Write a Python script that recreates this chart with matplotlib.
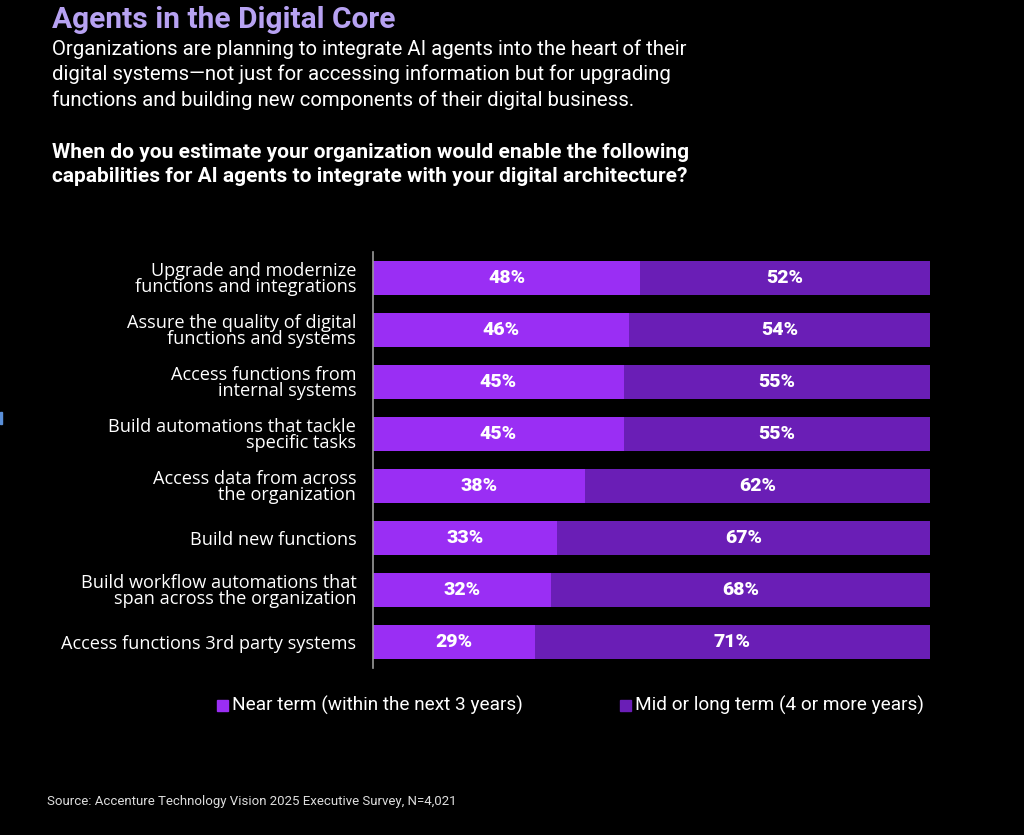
import matplotlib
matplotlib.use("Agg")
import matplotlib.pyplot as plt
from matplotlib.patches import Rectangle

categories = [
    "Upgrade and modernize\nfunctions and integrations",
    "Assure the quality of digital\nfunctions and systems",
    "Access functions from\ninternal systems",
    "Build automations that tackle\nspecific tasks",
    "Access data from across\nthe organization",
    "Build new functions",
    "Build workflow automations that\nspan across the organization",
    "Access functions 3rd party systems",
]
near_term = [48, 46, 45, 45, 38, 33, 32, 29]
mid_long = [52, 54, 55, 55, 62, 67, 68, 71]
series_names = ["Near term (within the next 3 years)", "Mid or long term (4 or more years)"]

title = "Agents in the Digital Core"
subtitle = ("Organizations are planning to integrate AI agents into the heart of their\n"
            "digital systems\u2014not just for accessing information but for upgrading\n"
            "functions and building new components of their digital business.")
question = ("When do you estimate your organization would enable the following\n"
            "capabilities for AI agents to integrate with your digital architecture?")
source = "Source: Accenture Technology Vision 2025 Executive Survey, N=4,021"

C_NEAR = "#9A2EF4"
C_MID = "#6A1EB6"
BG = "#000000"

plt.rcParams['font.family'] = ['Roboto', 'DejaVu Sans']

W, H = 1024, 835
fig = plt.figure(figsize=(W / 100, H / 100), dpi=100, facecolor=BG)

def fx(px):
    return px / W

def fy(py):
    return 1 - py / H

ax = fig.add_axes([fx(373), fy(668), fx(930) - fx(373), fy(252) - fy(668)])
ax.set_facecolor(BG)
y = list(range(len(categories)))
bh = 0.65
ax.barh(y, near_term, height=bh, color=C_NEAR, edgecolor='none')
ax.barh(y, mid_long, left=near_term, height=bh, color=C_MID, edgecolor='none')
for yi, a, b in zip(y, near_term, mid_long):
    ax.text(a / 2, yi, f"{a}%", ha='center', va='center', color='white',
            fontsize=14, fontweight='heavy')
    ax.text(a + b / 2, yi, f"{b}%", ha='center', va='center', color='white',
            fontsize=14, fontweight='heavy')
ax.set_xlim(0, 100)
ax.set_ylim(len(categories) - 0.5, -0.5)
ax.set_yticks(y)
ax.set_yticklabels(categories, fontsize=13.1, color='white', linespacing=0.86,
                   family=['Open Sans', 'DejaVu Sans'])
ax.tick_params(axis='y', length=0, pad=12)
ax.set_xticks([])
for s in ['top', 'right', 'bottom']:
    ax.spines[s].set_visible(False)
ax.spines['left'].set_color('#9a9a9a')
ax.spines['left'].set_linewidth(1.2)

# Titles
fig.text(fx(52), fy(20), title, fontsize=21.5, fontweight='bold', color='#B7A2F2',
         ha='left', va='center')
fig.text(fx(52), fy(39), subtitle, fontsize=14.7, color='white', ha='left', va='top',
         linespacing=1.39)
fig.text(fx(52), fy(143), question, fontsize=15, fontweight='bold', color='white',
         ha='left', va='top', linespacing=1.3)

# Legend
for px, col, name in [(217, C_NEAR, series_names[0]), (620, C_MID, series_names[1])]:
    fig.patches.append(Rectangle((fx(px), fy(711)), fx(11), 11 / H, color=col,
                                 transform=fig.transFigure, figure=fig))
    fig.text(fx(px + 15), fy(705), name, fontsize=13.7, color='white', ha='left', va='center')

fig.text(fx(47), fy(801), source, fontsize=9.5, color='#dddddd', ha='left', va='center')

fig.patches.append(Rectangle((0, fy(424)), fx(2), 12 / H, color='#5a8fd8',
                             transform=fig.transFigure, figure=fig))

fig.savefig("out.png", dpi=100, facecolor=BG)
